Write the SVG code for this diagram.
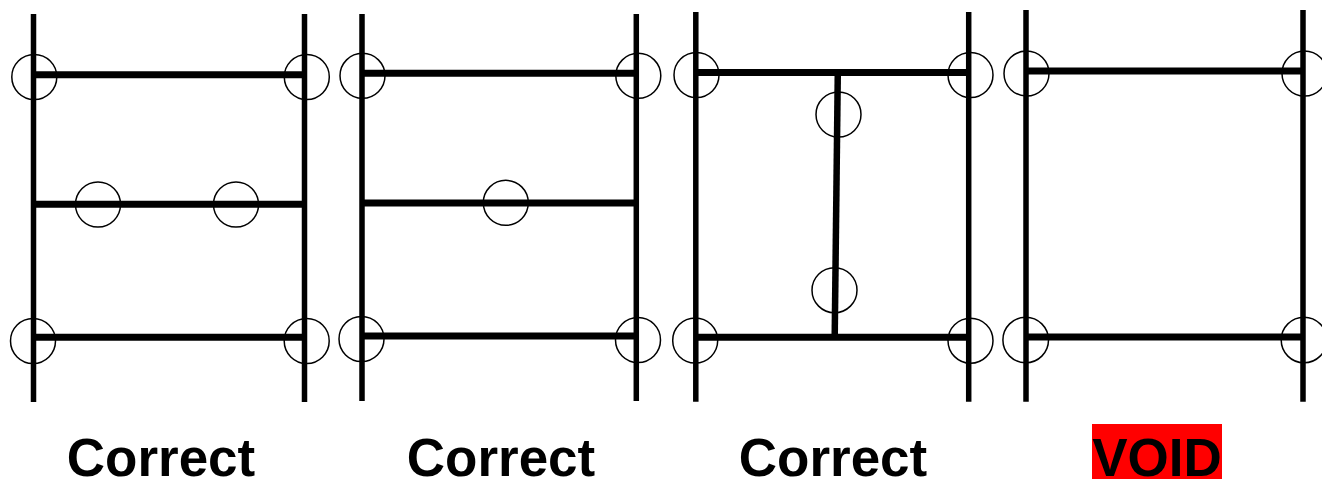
<svg xmlns="http://www.w3.org/2000/svg" width="1322" height="479" viewBox="0 0 1322 479">
<style>
.v{stroke:#000;stroke-width:5.500;fill:none}
.h{stroke:#000;stroke-width:7;fill:none}
.c{stroke:#000;stroke-width:1.500;fill:none}
.t{font-family:"Liberation Sans",Arial,sans-serif;font-weight:700;font-size:53px;fill:#000;text-anchor:middle}
</style>
<rect width="1322" height="479" fill="#fff"/>
<g id="connectors">
<path class="v" d="M33.500 14V402M304.500 14V402"/>
<path class="h" d="M33 74.800H304M33 204.300H304M33 337.300H304"/>
<path class="v" d="M362 14V401M636.300 14V401"/>
<path class="h" d="M362 73.200H636M362 203H636M362 336H636"/>
<path class="v" d="M695.800 12V401.700M968.700 12V401.700"/>
<path class="h" d="M696 72.500H968M696 337.300H968"/>
<path class="v" d="M837.800 72L834.700 337" style="stroke-width:6.500"/>
<path class="v" d="M1026 10V401.700M1303 10V401.700"/>
<path class="h" d="M1026 71H1303M1026 337H1303"/>
</g>
<g id="panel1">
<circle class="c" cx="34.300" cy="77" r="22.500"/><circle class="c" cx="306.800" cy="77" r="22.500"/>
<circle class="c" cx="98" cy="204.500" r="22.500"/><circle class="c" cx="236" cy="204.500" r="22.500"/>
<circle class="c" cx="33" cy="341" r="22.500"/><circle class="c" cx="306.700" cy="341" r="22.500"/>
<text class="t" x="161" y="476">Correct</text>
</g>
<g id="panel2">
<circle class="c" cx="362.500" cy="75.800" r="22.500"/><circle class="c" cx="638.300" cy="75.800" r="22.500"/>
<circle class="c" cx="505.800" cy="202.800" r="22.500"/>
<circle class="c" cx="361.500" cy="339" r="22.500"/><circle class="c" cx="638" cy="340" r="22.500"/>
<text class="t" x="501" y="476">Correct</text>
</g>
<g id="panel3">
<circle class="c" cx="696.500" cy="75" r="22.500"/><circle class="c" cx="970.500" cy="75" r="22.500"/>
<circle class="c" cx="838.500" cy="114.500" r="22.500"/><circle class="c" cx="834.500" cy="290.200" r="22.500"/>
<circle class="c" cx="695.200" cy="340.500" r="22.500"/><circle class="c" cx="970.500" cy="340.700" r="22.500"/>
<text class="t" x="833" y="476">Correct</text>
</g>
<g id="panel4">
<circle class="c" cx="1026.500" cy="73.500" r="22.500"/><circle class="c" cx="1304.500" cy="73.500" r="22.500"/>
<circle class="c" cx="1025.700" cy="340" r="22.800"/><circle class="c" cx="1304" cy="340" r="22.800"/>
<rect x="1092" y="424" width="130" height="55" fill="#ff0000"/>
<text class="t" x="1157" y="476">VOID</text>
</g>
</svg>
